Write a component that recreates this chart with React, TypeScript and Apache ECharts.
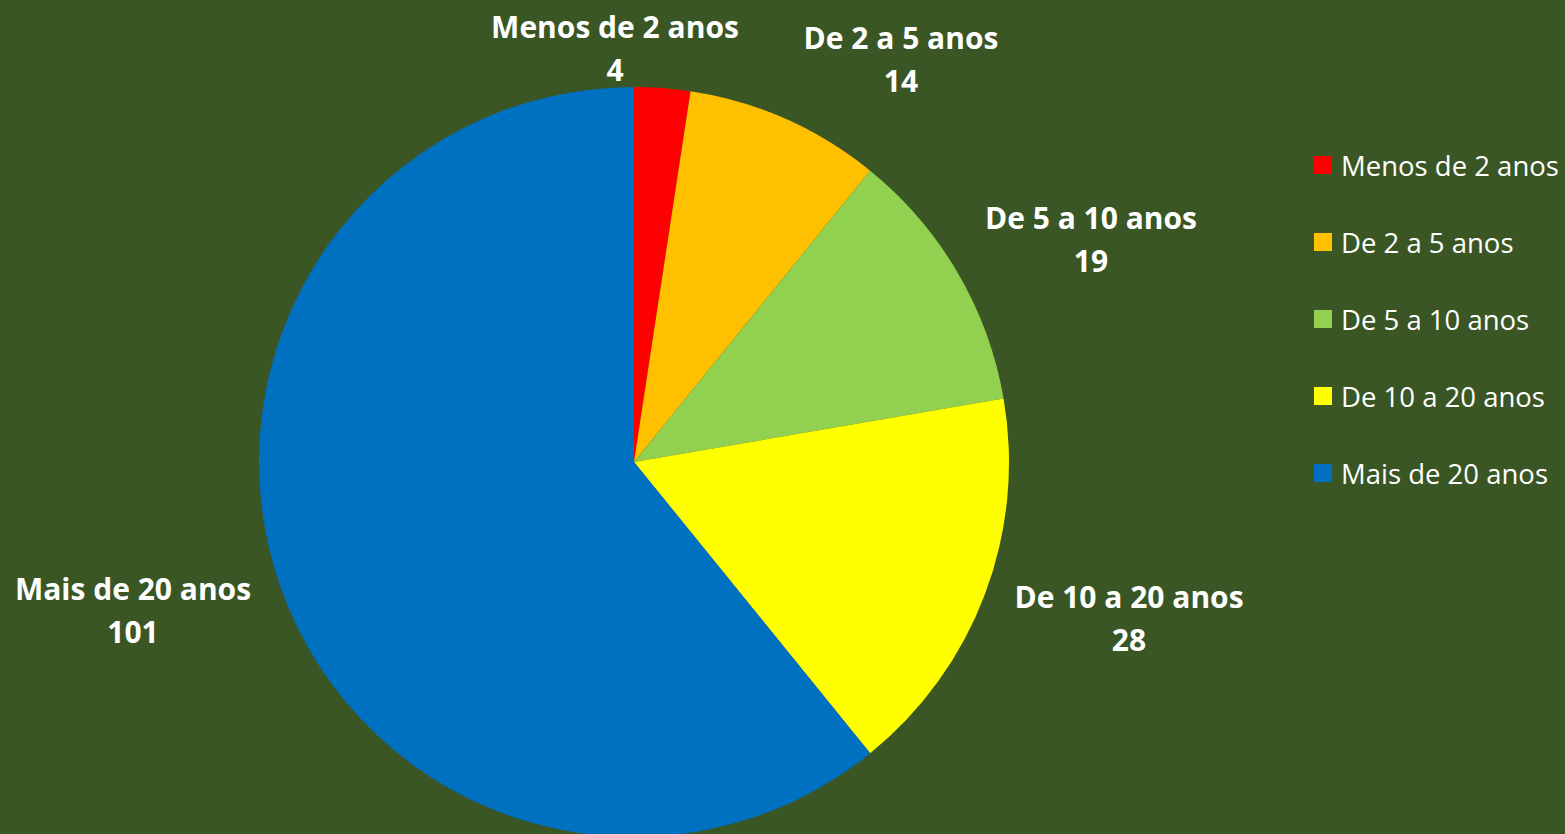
import React, { useEffect, useRef } from "react";
import * as echarts from "echarts";

const categories = ["Menos de 2 anos", "De 2 a 5 anos", "De 5 a 10 anos", "De 10 a 20 anos", "Mais de 20 anos"];
const values = [4, 14, 19, 28, 101];
const colors = ["#FF0000", "#FFC000", "#92D050", "#FFFF00", "#0070C0"];
// label anchor points (centre of each two-line label)
const labelPos: [number, number][] = [
  [615, 48],
  [901, 59],
  [1091, 239],
  [1129, 618],
  [133, 610],
];

export default function App() {
  const ref = useRef<HTMLDivElement>(null);
  useEffect(() => {
    if (!ref.current) return;
    const chart = echarts.init(ref.current, null, { renderer: "svg" });
    chart.setOption({
      animation: false,
      backgroundColor: "#3A5624",
      legend: {
        orient: "vertical",
        left: 1309,
        top: 146,
        itemWidth: 18,
        itemHeight: 18,
        itemGap: 49,
        icon: "rect",
        data: categories,
        textStyle: {
          color: "#FFFFFF",
          fontSize: 27.5,
          lineHeight: 27,
          fontFamily: "Open Sans",
          padding: [0, 0, 0, 4],
        },
      },
      series: [
        {
          type: "pie",
          center: [634, 462],
          radius: 375,
          startAngle: 90,
          clockwise: true,
          silent: true,
          data: categories.map((name, i) => ({
            name,
            value: values[i],
            itemStyle: { color: colors[i] },
          })),
          label: {
            show: true,
            position: "outside",
            formatter: "{b}\n{c}",
            color: "#FFFFFF",
            fontSize: 30,
            fontWeight: "bold",
            fontFamily: "Open Sans",
            lineHeight: 43,
            align: "center",
            overflow: "none",
          },
          labelLine: { show: false },
          labelLayout: (params: any) => {
            const p = labelPos[params.dataIndex];
            return { x: p[0], y: p[1], align: "center", verticalAlign: "middle" };
          },
        },
      ],
    });
    return () => chart.dispose();
  }, []);
  return (
    <div
      ref={ref}
      style={{ position: "fixed", left: 0, top: 0, width: 1565, height: 834 }}
    />
  );
}
